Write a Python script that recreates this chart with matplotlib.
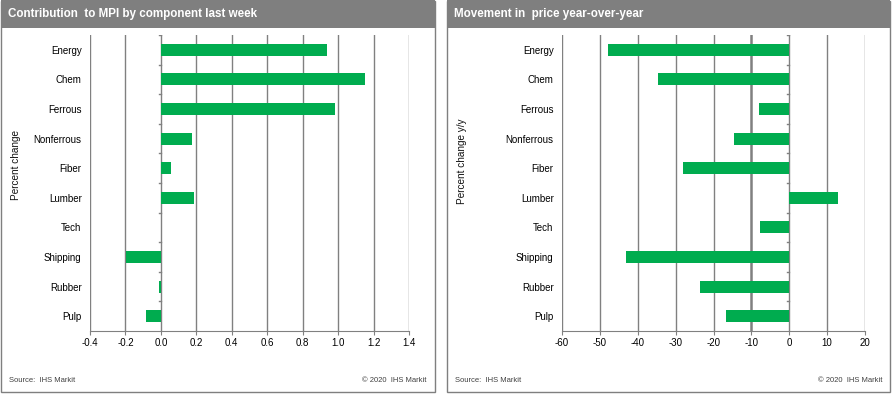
import matplotlib.pyplot as plt
from matplotlib.patches import Rectangle

plt.rcParams['font.family'] = ['Liberation Sans', 'DejaVu Sans']

# DATA ---------
categories = ['Energy', 'Chem', 'Ferrous', 'Nonferrous', 'Fiber',
              'Lumber', 'Tech', 'Shipping', 'Rubber', 'Pulp']
contribution = [0.94, 1.15, 0.98, 0.175, 0.056, 0.186, 0.0, -0.198, -0.01, -0.085]
yoy_change = [-47.8, -34.6, -7.9, -14.6, -28.0, 12.8, -7.7, -43.1, -23.6, -16.7]

left_ticks = [-0.4, -0.2, 0.0, 0.2, 0.4, 0.6, 0.8, 1.0, 1.2, 1.4]
left_ticklabels = ['-0.4', '-0.2', '0.0', '0.2', '0.4', '0.6', '0.8', '1.0', '1.2', '1.4']
right_ticks = [-60, -50, -40, -30, -20, -10, 0, 10, 20]

GREEN = '#00ac4f'
GRID = '#808080'
W, H = 893, 395

fig = plt.figure(figsize=(W / 100, H / 100), dpi=100)


def panel(x0, x1, title):
    # outer border + grey header band
    fig.patches.append(Rectangle((x0 / W, 1 - 392 / H), (x1 - x0) / W, 391 / H,
                                 transform=fig.transFigure, fill=False,
                                 edgecolor='#7f7f7f', linewidth=1.0))
    fig.patches.append(Rectangle((x0 / W, 1 - 28 / H), (x1 - x0) / W, 28 / H,
                                 transform=fig.transFigure, facecolor='#7f7f7f',
                                 edgecolor='none'))
    fig.text((x0 + 7) / W, 1 - 14.5 / H, title, color='white', fontsize=8.4,
             fontweight='bold', va='center', ha='left')
    fig.text((x0 + 8) / W, 1 - 380 / H, 'Source:  IHS Markit', fontsize=5.5,
             va='center', color='#404040')
    fig.text((x1 - 8) / W, 1 - 380 / H, '\u00a9 2020  IHS Markit', fontsize=5.5,
             va='center', ha='right', color='#404040')


def bars(ax, vals, ticks, ticklabels, ylabel, zero_lw):
    n = len(categories)
    pos = list(range(n))
    ax.barh(pos, vals, height=0.4, color=GREEN, zorder=3)
    ax.set_ylim(n - 0.5, -0.5)
    ax.set_xlim(ticks[0], ticks[-1])
    ax.set_xticks(ticks)
    ax.set_xticklabels(ticklabels, fontsize=7)
    ax.set_yticks(pos)
    ax.set_yticklabels(categories, fontsize=7)
    ax.tick_params(axis='y', length=0, pad=6)
    ax.tick_params(axis='x', length=3, color=GRID, pad=2)
    for s in ['top', 'right', 'left']:
        ax.spines[s].set_visible(False)
    ax.spines['bottom'].set_color(GRID)
    for t in ticks:
        ax.axvline(t, color=GRID, linewidth=zero_lw.get(t, 1.0), zorder=1)
    # category dividers on the zero axis
    span = ticks[-1] - ticks[0]
    for b in range(n):
        ax.plot([-span * 0.006, 0], [b - 0.5, b - 0.5], color=GRID,
                linewidth=1.0, zorder=2)
    ax.set_ylabel(ylabel, fontsize=7.2, color='#111111')


panel(1, 435, 'Contribution  to MPI by component last week')
panel(447, 890, 'Movement in  price year-over-year')

ax1 = fig.add_axes([90 / W, 1 - 331 / H, (409 - 90) / W, (331 - 35) / H])
bars(ax1, contribution, left_ticks, left_ticklabels, 'Percent change', {})

ax2 = fig.add_axes([562 / W, 1 - 331 / H, (865 - 562) / W, (331 - 35) / H])
bars(ax2, yoy_change, right_ticks, [str(t) for t in right_ticks],
     'Percent change y/y', {-10: 1.8})
ax1.yaxis.set_label_coords(-0.216, 0.56)
ax2.yaxis.set_label_coords(-0.314, 0.574)

fig.savefig('out.png', dpi=100)
